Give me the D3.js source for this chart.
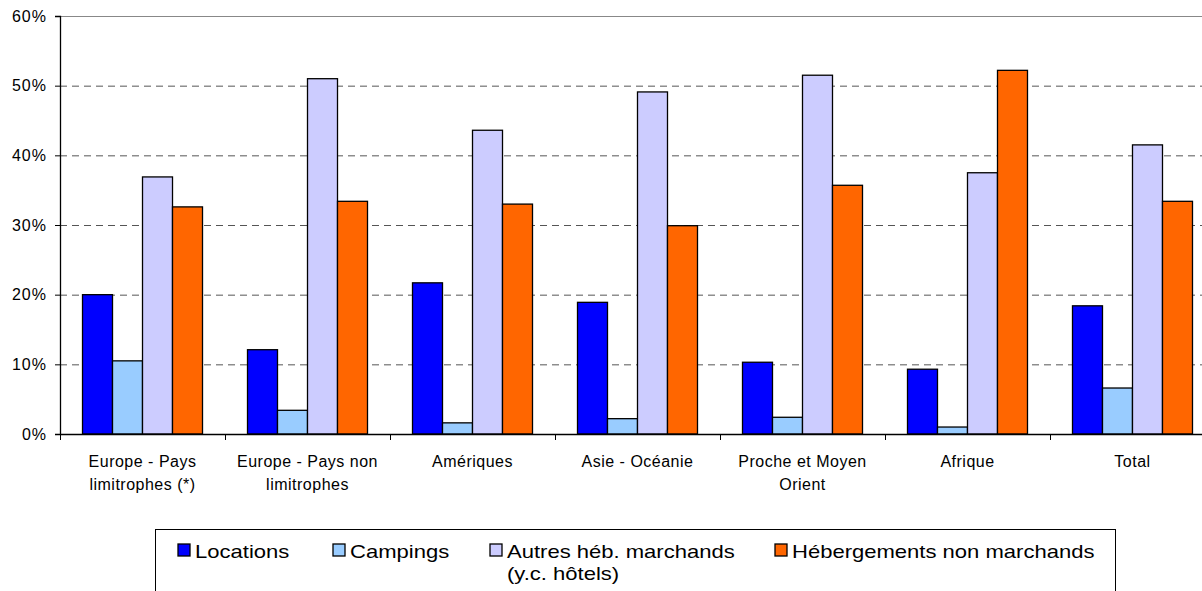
<!DOCTYPE html>
<html>
<head>
<meta charset="utf-8">
<script src="https://cdn.jsdelivr.net/npm/d3@7"></script>
<style>
  body { margin: 0; background: #fff; }
  text { font-family: "Liberation Sans", Arial, sans-serif; }
</style>
</head>
<body>
<div id="chart"></div>
<script>
var categories = [
    ["Europe - Pays", "limitrophes (*)"],
    ["Europe - Pays non", "limitrophes"],
    ["Amériques"],
    ["Asie - Océanie"],
    ["Proche et Moyen", "Orient"],
    ["Afrique"],
    ["Total"]
];
var seriesNames = [["Locations"], ["Campings"], ["Autres héb. marchands", "(y.c. hôtels)"], ["Hébergements non marchands"]];
var locations = [20.0, 12.1, 21.7, 18.9, 10.3, 9.3, 18.4];
var campings = [10.5, 3.4, 1.6, 2.2, 2.4, 1.0, 6.6];
var autres = [36.9, 51.0, 43.6, 49.1, 51.5, 37.5, 41.5];
var hebergements = [32.6, 33.4, 33.0, 29.9, 35.7, 52.2, 33.4];
var yTicks = [0, 10, 20, 30, 40, 50, 60];
var colors = ["#0000ff", "#99ccff", "#ccccff", "#ff6600"];

var series = [locations, campings, autres, hebergements];

var width = 1202,
    height = 591,
    svg = d3.select('#chart')
    .append('svg')
    .attr('width', width)
    .attr('height', height);

var plotLeft = 60, plotTop = 16, plotBottom = 434, step = 165;

var x = d3.scaleBand()
    .domain(d3.range(categories.length))
    .range([plotLeft, plotLeft + step * categories.length])
    .paddingInner(0.2727)
    .paddingOuter(0.1364);

var x1 = d3.scaleBand()
    .domain(d3.range(series.length))
    .range([0, x.bandwidth()]);

var y = d3.scaleLinear().domain([0, 60]).range([plotBottom, plotTop]);

// gridlines
svg.selectAll('line.grid')
    .data(yTicks.filter(function(t) { return t > 0 && t < 60; }))
    .enter()
    .append('line')
    .attr('x1', plotLeft)
    .attr('x2', width)
    .attr('y1', function(d) { return y(d) + 0.5; })
    .attr('y2', function(d) { return y(d) + 0.5; })
    .attr('stroke', '#555')
    .attr('stroke-width', 1)
    .attr('stroke-dasharray', '7,5');

svg.append('line')
    .attr('x1', plotLeft).attr('x2', width)
    .attr('y1', y(60) + 0.5).attr('y2', y(60) + 0.5)
    .attr('stroke', '#888').attr('stroke-width', 1.2);

// bars
var groups = svg.selectAll('g.cat')
    .data(categories)
    .enter()
    .append('g')
    .attr('transform', function(d, i) { return 'translate(' + x(i) + ',0)'; });

groups.selectAll('rect')
    .data(function(d, i) { return series.map(function(s) { return s[i]; }); })
    .enter()
    .append('rect')
    .attr('x', function(d, j) { return x1(j); })
    .attr('y', function(d) { return y(d); })
    .attr('width', x1.bandwidth())
    .attr('height', function(d) { return plotBottom - y(d); })
    .attr('fill', function(d, j) { return colors[j]; })
    .attr('stroke', '#000')
    .attr('stroke-width', 1.3);

// y axis
var yAxis = d3.axisLeft(y).tickValues(yTicks).tickSize(5).tickFormat(function(d) { return d + '%'; });
var gy = svg.append('g')
    .attr('transform', 'translate(' + plotLeft + ',0)')
    .call(yAxis);
gy.select('.domain').attr('stroke', '#000').attr('stroke-width', 1.3);
gy.selectAll('.tick line').attr('stroke', '#000');
gy.selectAll('.tick text')
    .attr('x', -13)
    .attr('font-size', 16)
    .attr('letter-spacing', 1)
    .attr('fill', '#000');

// x axis
svg.append('line')
    .attr('x1', plotLeft).attr('x2', width)
    .attr('y1', plotBottom + 0.5).attr('y2', plotBottom + 0.5)
    .attr('stroke', '#000').attr('stroke-width', 1.3);

svg.selectAll('line.xtick')
    .data(d3.range(categories.length + 1))
    .enter()
    .append('line')
    .attr('x1', function(d) { return plotLeft + d * step + 0.5; })
    .attr('x2', function(d) { return plotLeft + d * step + 0.5; })
    .attr('y1', plotBottom)
    .attr('y2', plotBottom + 6)
    .attr('stroke', '#000');

var labels = svg.selectAll('text.cat')
    .data(categories)
    .enter()
    .append('text')
    .attr('text-anchor', 'middle')
    .attr('font-size', 16)
    .attr('letter-spacing', 0.5)
    .attr('fill', '#000')
    .attr('transform', function(d, i) { return 'translate(' + (x(i) + x.bandwidth() / 2) + ',467)'; });

labels.selectAll('tspan')
    .data(function(d) { return d; })
    .enter()
    .append('tspan')
    .attr('x', 0)
    .attr('dy', function(d, k) { return k === 0 ? 0 : 23; })
    .text(function(d) { return d; });

// legend
svg.append('rect')
    .attr('x', 155.5).attr('y', 529.5)
    .attr('width', 960).attr('height', 80)
    .attr('fill', '#fff')
    .attr('stroke', '#000')
    .attr('stroke-width', 1);

var legendX = [178, 333, 490, 775];
var leg = svg.selectAll('g.leg')
    .data(seriesNames)
    .enter()
    .append('g')
    .attr('transform', function(d, i) { return 'translate(' + legendX[i] + ',544)'; });

leg.append('rect')
    .attr('width', 12).attr('height', 12)
    .attr('fill', function(d, i) { return colors[i]; })
    .attr('stroke', '#000')
    .attr('stroke-width', 1.3);

leg.append('text')
    .attr('transform', 'translate(17,14) scale(1.16,1)')
    .attr('font-size', 19)
    .attr('fill', '#000')
    .selectAll('tspan')
    .data(function(d) { return d; })
    .enter()
    .append('tspan')
    .attr('x', 0)
    .attr('dy', function(d, k) { return k === 0 ? 0 : 22; })
    .text(function(d) { return d; });
</script>
</body>
</html>
